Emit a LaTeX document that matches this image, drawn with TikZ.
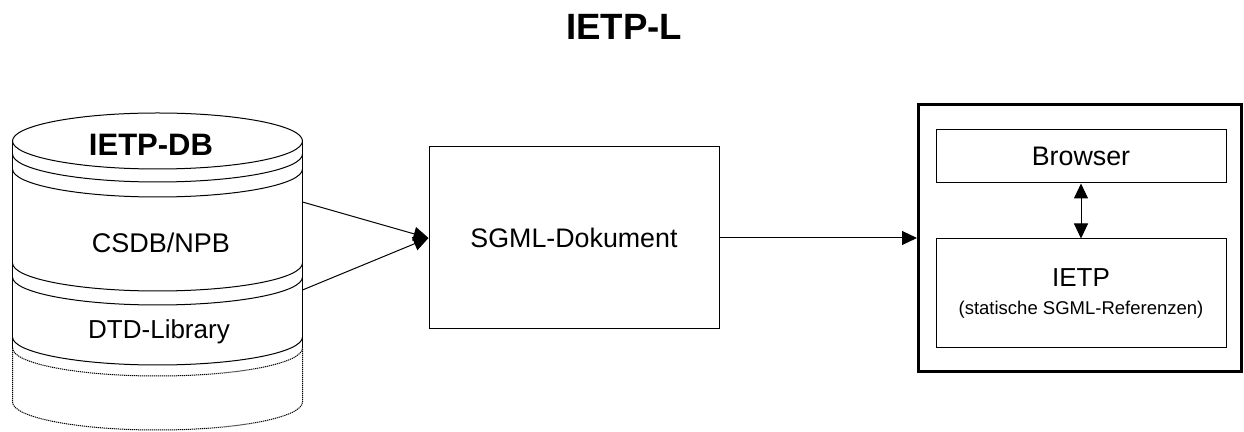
\documentclass[tikz,border=0pt]{standalone}
\usepackage{fontspec}
\setmainfont{Liberation Sans}
\usetikzlibrary{arrows.meta, positioning}

\tikzset{
	box/.style = {draw, line width=0.5pt, inner sep=0pt},
	conn/.style = {line width=0.5pt, >={Triangle[length=7.5pt, width=7pt]}},
	band/.style = {line width=0.5pt},
	faint/.style = {line width=0.5pt, dash pattern=on 0.6pt off 0.4pt},
}

\begin{document}
\begin{tikzpicture}[x=0.5pt, y=-0.5pt]
	\useasboundingbox (0,0) rectangle (1244,432);

	\node[font=\fontsize{18.3}{20}\selectfont\bfseries] (title) at (624,27) {IETP-L};

	% cylinder
	\draw[band] (12.5,141) -- (12.5,348);
	\draw[band] (302.5,141) -- (302.5,348);
	\draw[faint] (12.5,348) -- (12.5,402) arc[start angle=180, end angle=360, x radius=72.5pt, y radius=14pt] -- (302.5,348);
	\draw[band, fill=white] (157.5,141) ellipse[x radius=72.5pt, y radius=14pt];
	\foreach \y in {154,169,263,277,337} {
			\draw[band] (12.5,\y) arc[start angle=180, end angle=360, x radius=72.5pt, y radius=14pt];
		}
	\draw[faint] (12.5,348) arc[start angle=180, end angle=360, x radius=72.5pt, y radius=14pt];

	\node[font=\fontsize{15.5}{17}\selectfont\bfseries] (db) at (151,145) {IETP-DB};
	\node[font=\fontsize{13.5}{15}\selectfont] (csdb) at (161,243) {CSDB/NPB};
	\node[font=\fontsize{13}{15}\selectfont] (dtd) at (159,332) {DTD-Library};
	\coordinate (db1) at (302.5,202);
	\coordinate (db2) at (302.5,290);

	\node[box, minimum width=145pt, minimum height=91pt, font=\fontsize{13.4}{15}\selectfont] (sgml) at (574,238) {SGML-Dokument};

	\node[box, line width=1.5pt, minimum width=161.5pt, minimum height=133.5pt] (frame) at (1080,238) {};
	\node[box, minimum width=145pt, minimum height=26.5pt, font=\fontsize{13.4}{15}\selectfont] (browser) at (1081,156.5) {Browser};
	\node[box, minimum width=145pt, minimum height=54.5pt, align=center, font=\fontsize{13}{15}\selectfont] (ietp) at (1081,293.5) {IETP\\[-1pt]{\fontsize{9.25}{11}\selectfont (statische SGML-Referenzen)}};

	\draw[conn, ->] (db1) -- (sgml.west);
	\draw[conn, ->] (db2) -- (sgml.west);
	\draw[conn, ->] (sgml.east) -- (frame.west);
	\draw[conn, <->] (browser.south) -- (ietp.north);

\end{tikzpicture}
\end{document}
